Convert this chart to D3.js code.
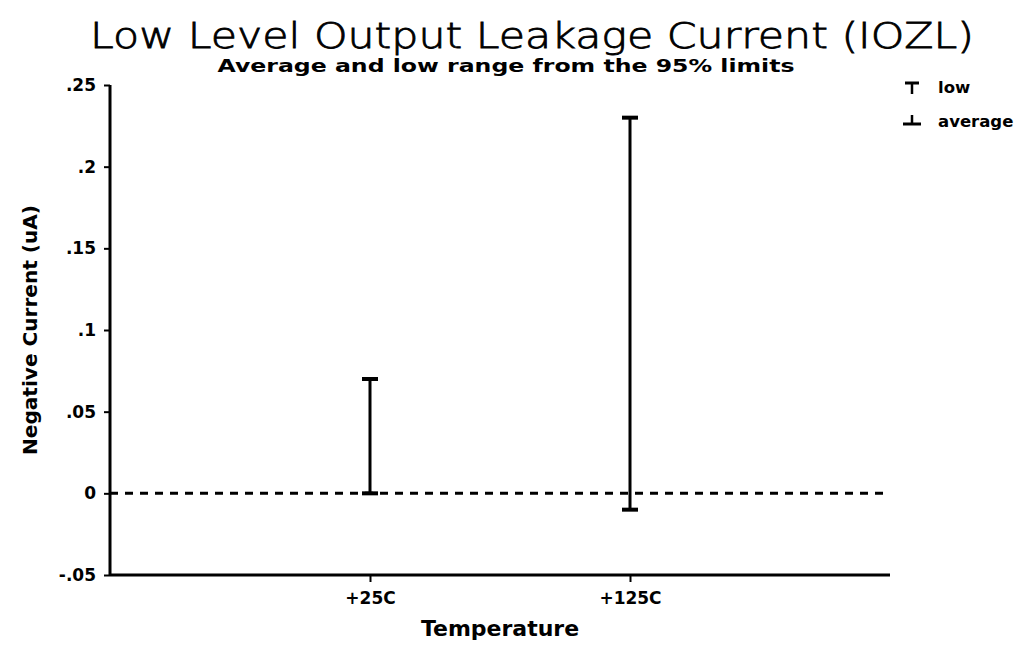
<!DOCTYPE html>
<html>
<head>
<meta charset="utf-8">
<script src="https://cdn.jsdelivr.net/npm/d3@7"></script>
<style>
  html, body { margin: 0; padding: 0; background: #fff; }
  svg { display: block; }
  .bold { font-family: "DejaVu Sans", "Liberation Sans", sans-serif; font-weight: bold; fill: #000; }
</style>
</head>
<body>
<svg id="chart" width="1018" height="645"></svg>
<script>
// Temperature categories and the two statistics per category (uA)
const categories = ["+25C", "+125C"];
const lowValues = [0.07, 0.23];
const averageValues = [0.0, -0.01];
const yTicks = [-0.05, 0, 0.05, 0.1, 0.15, 0.2, 0.25];
const yTickLabels = ["-.05", "0", ".05", ".1", ".15", ".2", ".25"];

const svg = d3.select("#chart");
const margin = { left: 110, right: 128, top: 85, bottom: 70 };
const W = 1018, H = 645;

const x = d3.scalePoint()
  .domain(categories)
  .range([margin.left, W - margin.right])
  .padding(1);

const y = d3.scaleLinear()
  .domain([-0.05, 0.25])
  .range([H - margin.bottom, margin.top]);

// Titles
svg.append("text")
  .attr("x", 532).attr("y", 48)
  .attr("text-anchor", "middle")
  .style("font-family", "'DejaVu Sans', sans-serif")
  .style("font-weight", "200")
  .style("font-size", "36px")
  .attr("stroke", "#000")
  .attr("stroke-width", 0.8)
  .attr("textLength", 884)
  .attr("lengthAdjust", "spacingAndGlyphs")
  .text("Low Level Output Leakage Current (IOZL)");

svg.append("text")
  .attr("class", "bold")
  .attr("x", 506).attr("y", 72)
  .attr("text-anchor", "middle")
  .style("font-size", "18.5px")
  .attr("textLength", 577)
  .attr("lengthAdjust", "spacingAndGlyphs")
  .text("Average and low range from the 95% limits");

// Y axis
const yAxis = svg.append("g")
  .attr("transform", `translate(${margin.left},0)`)
  .call(d3.axisLeft(y)
    .tickValues(yTicks)
    .tickFormat((d, i) => yTickLabels[i])
    .tickSize(6)
    .tickPadding(8));
yAxis.select(".domain").attr("stroke-width", 3).attr("d", `M0,${y(0.25)}V${y(-0.05)}`);
yAxis.selectAll(".tick line").attr("stroke-width", 2);
yAxis.selectAll(".tick text")
  .attr("class", "bold")
  .style("font-size", "17px");

// X axis
const xAxis = svg.append("g")
  .attr("transform", `translate(0,${y(-0.05)})`)
  .call(d3.axisBottom(x).tickSize(7).tickPadding(10));
xAxis.select(".domain").attr("stroke-width", 3)
  .attr("d", `M${margin.left},0H${W - margin.right}`);
xAxis.selectAll(".tick line").attr("stroke-width", 2);
xAxis.selectAll(".tick text")
  .attr("class", "bold")
  .style("font-size", "17px");

// Axis titles
svg.append("text")
  .attr("class", "bold")
  .attr("transform", `translate(37,${(y(0.25) + y(-0.05)) / 2}) rotate(-90)`)
  .attr("text-anchor", "middle")
  .style("font-size", "19px")
  .attr("textLength", 250)
  .attr("lengthAdjust", "spacingAndGlyphs")
  .text("Negative Current (uA)");

svg.append("text")
  .attr("class", "bold")
  .attr("x", (margin.left + W - margin.right) / 2)
  .attr("y", 636)
  .attr("text-anchor", "middle")
  .style("font-size", "22px")
  .text("Temperature");

// Zero reference line
svg.append("line")
  .attr("x1", margin.left).attr("x2", W - margin.right)
  .attr("y1", y(0)).attr("y2", y(0))
  .attr("stroke", "#000")
  .attr("stroke-width", 3)
  .attr("stroke-dasharray", "8,7");

// Range bars: low (top cap) to average (bottom cap)
const capHalf = 8;
const bars = svg.append("g");
categories.forEach((c, i) => {
  const cx = x(c);
  bars.append("line")
    .attr("x1", cx).attr("x2", cx)
    .attr("y1", y(lowValues[i])).attr("y2", y(averageValues[i]))
    .attr("stroke", "#000").attr("stroke-width", 3);
  bars.append("line")
    .attr("x1", cx - capHalf).attr("x2", cx + capHalf)
    .attr("y1", y(lowValues[i])).attr("y2", y(lowValues[i]))
    .attr("stroke", "#000").attr("stroke-width", 4);
  bars.append("line")
    .attr("x1", cx - capHalf).attr("x2", cx + capHalf)
    .attr("y1", y(averageValues[i])).attr("y2", y(averageValues[i]))
    .attr("stroke", "#000").attr("stroke-width", 4);
});

// Legend
const legend = svg.append("g");
const legendItems = [
  { label: "low", yPos: 88, type: "low" },
  { label: "average", yPos: 122, type: "average" }
];
legendItems.forEach(item => {
  const lx = 912;
  if (item.type === "low") {
    legend.append("line").attr("x1", lx - 7).attr("x2", lx + 7)
      .attr("y1", item.yPos - 5).attr("y2", item.yPos - 5)
      .attr("stroke", "#000").attr("stroke-width", 3);
    legend.append("line").attr("x1", lx).attr("x2", lx)
      .attr("y1", item.yPos - 5).attr("y2", item.yPos + 6)
      .attr("stroke", "#000").attr("stroke-width", 2.5);
  } else {
    legend.append("line").attr("x1", lx - 9).attr("x2", lx + 9)
      .attr("y1", item.yPos + 2).attr("y2", item.yPos + 2)
      .attr("stroke", "#000").attr("stroke-width", 3);
    legend.append("line").attr("x1", lx).attr("x2", lx)
      .attr("y1", item.yPos - 7).attr("y2", item.yPos + 2)
      .attr("stroke", "#000").attr("stroke-width", 2.5);
  }
  legend.append("text")
    .attr("class", "bold")
    .attr("x", 938).attr("y", item.yPos + 5)
    .style("font-size", "16.5px")
    .text(item.label);
});
</script>
</body>
</html>
